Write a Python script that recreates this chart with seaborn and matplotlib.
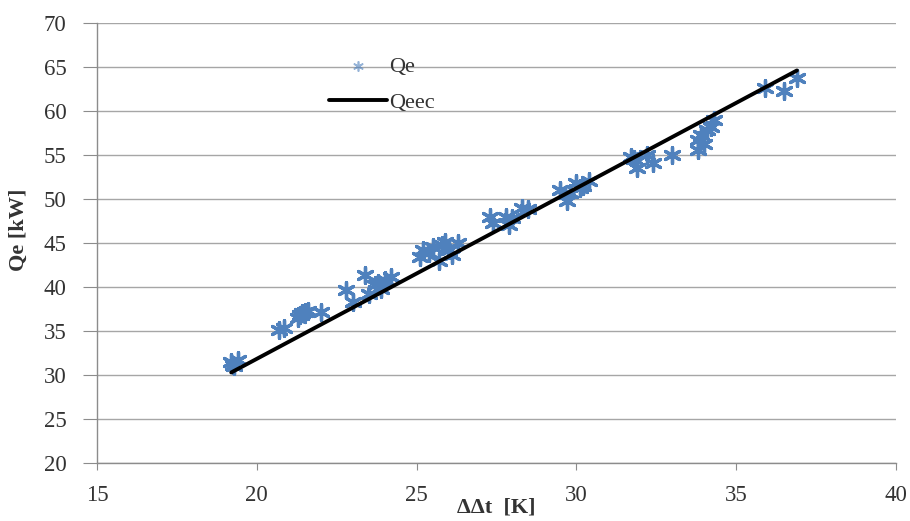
"""Qe vs temperature difference: measured points and fitted line."""

import pandas as pd
import matplotlib
matplotlib.use('Agg')
import matplotlib.pyplot as plt
import seaborn as sns

dt = [19.2, 19.3, 19.4, 19.25,
      20.7, 20.85,
      21.3, 21.4, 21.5, 21.6, 21.35,
      22.0,
      22.8, 23.0, 23.4, 23.5, 23.7, 23.8, 23.9, 24.0, 24.2,
      25.1, 25.2, 25.4, 25.5, 25.7, 25.8, 26.0, 26.1, 26.3, 25.9,
      27.3, 27.4, 27.8, 27.9, 28.0, 28.3, 28.5,
      29.5, 29.7, 29.8, 30.0, 30.1, 30.2, 30.4,
      31.7, 31.8, 31.9, 32.2, 32.4, 33.0,
      33.8, 33.8, 33.9, 34.0, 34.1, 34.2, 34.3,
      35.9, 36.5, 36.9]
qe = [31.5, 31.0, 31.7, 31.2,
      35.1, 35.3,
      36.5, 37.0, 37.2, 37.3, 36.8,
      37.2,
      39.7, 38.3, 41.4, 39.2, 40.2, 40.5, 39.8, 40.8, 41.2,
      43.4, 44.2, 43.9, 44.6, 43.0, 44.8, 44.2, 43.6, 45.0, 45.1,
      48.0, 47.3, 48.0, 47.0, 47.8, 49.0, 48.9,
      51.0, 49.8, 50.7, 51.8, 51.2, 51.5, 52.0,
      54.8, 54.5, 53.5, 55.0, 54.1, 55.0,
      56.7, 55.6, 57.3, 56.2, 57.8, 58.2, 59.0,
      62.6, 62.3, 63.8]

# calculated line Qeec
line_dt = [19.2, 36.9]
line_qe = [30.3, 64.6]

x_ticks = [15, 20, 25, 30, 35, 40]
y_ticks = [20, 25, 30, 35, 40, 45, 50, 55, 60, 65, 70]

df = pd.DataFrame({'dt': dt, 'qe': qe})
df_line = pd.DataFrame({'dt': line_dt, 'qe': line_qe})

sns.set_style('white')
plt.rcParams['font.family'] = ['Liberation Serif', 'DejaVu Serif']

fig = plt.figure(figsize=(9.1, 5.21), dpi=100)
ax = fig.add_axes([0.1066, 0.111, 0.878, 0.845])

sns.scatterplot(data=df, x='dt', y='qe', ax=ax, marker=(6, 2, 0), s=130,
                color='#4f81bd', edgecolor='#4f81bd', linewidth=2.4, label='Qe', zorder=3)
sns.lineplot(data=df_line, x='dt', y='qe', ax=ax, color='black', linewidth=2.8,
             label='Qeec', zorder=4)

ax.set_xlim(15, 40)
ax.set_ylim(20, 70)
ax.set_xticks(x_ticks)
ax.set_yticks(y_ticks)
ax.yaxis.grid(True, color='#a6a6a6', linewidth=1.0)
ax.xaxis.grid(False)
ax.set_axisbelow(True)

for s in ['top', 'right']:
    ax.spines[s].set_visible(False)
for s in ['left', 'bottom']:
    ax.spines[s].set_color('#8c8c8c')
    ax.spines[s].set_linewidth(1.0)

ax.tick_params(axis='y', length=10, color='#8c8c8c', labelsize=16.5, pad=12, left=True)
ax.tick_params(axis='x', length=5, color='#8c8c8c', labelsize=16.5, pad=11, bottom=True)
for t in ax.get_xticklabels() + ax.get_yticklabels():
    t.set_color('#333333')

ax.set_xlabel('ΔΔt  [K]', fontsize=16, fontweight='bold', color='#333333')
ax.xaxis.set_label_coords(0.5, -0.1)
ax.xaxis.label.set_va('center')
ax.set_ylabel('Qe [kW]', fontsize=16, fontweight='bold', color='#333333')
ax.yaxis.set_label_coords(-0.098, 0.53)
ax.yaxis.label.set_va('center')

leg = ax.legend(loc='upper left', bbox_to_anchor=(0.265, 0.97), frameon=False,
                fontsize=16, handlelength=2.6, labelspacing=0.7, handletextpad=0.1)
for txt in leg.get_texts():
    txt.set_color('#333333')
# the marker in the legend is drawn small and pale
leg.legend_handles[0].set_sizes([45])
leg.legend_handles[0].set_alpha(0.6)
leg.legend_handles[0].set_linewidth(1.2)

fig.savefig('out.png', dpi=100)
